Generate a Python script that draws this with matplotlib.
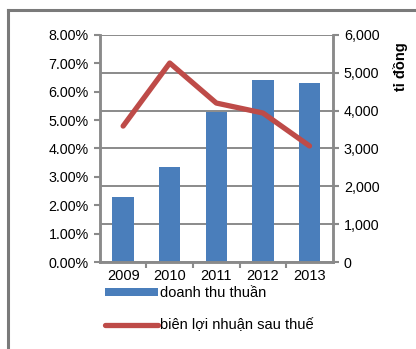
import matplotlib.pyplot as plt
from matplotlib.lines import Line2D
from matplotlib.patches import Patch

plt.rcParams['font.family'] = ['Liberation Sans', 'DejaVu Sans']

years = ['2009', '2010', '2011', '2012', '2013']
revenue = [1720, 2510, 3960, 4800, 4720]          # doanh thu thuần (tỉ đồng)
margin = [4.79, 7.01, 5.60, 5.25, 4.09]           # biên lợi nhuận sau thuế (%)
left_ticks = [0, 1, 2, 3, 4, 5, 6, 7, 8]
right_ticks = [0, 1000, 2000, 3000, 4000, 5000, 6000]

blue = '#4a7ebb'
red = '#be4b48'
grey = '#8a8a8a'

fig = plt.figure(figsize=(4.16, 3.49), dpi=100)
ax = fig.add_axes([0.240, 0.249, 0.560, 0.651])
ax2 = ax.twinx()

x = list(range(len(years)))

# bars on right axis, line on left axis
ax2.bar(x, revenue, width=0.46, color=blue, zorder=2)
ax.set_zorder(ax2.get_zorder() + 1)
ax.patch.set_visible(False)
ax.plot(x, margin, color=red, linewidth=3.8, solid_capstyle='round', zorder=3)

ax.set_ylim(0, 8)
ax.set_yticks(left_ticks)
ax.set_yticklabels([f'{v:.2f}%' for v in left_ticks], fontsize=10.3)
ax2.set_ylim(0, 6000)
ax2.set_yticks(right_ticks)
ax2.set_yticklabels([f'{v:,}' for v in right_ticks], fontsize=10.3)
ax2.yaxis.grid(True, color=grey, linewidth=1.4, zorder=0)
ax2.set_axisbelow(True)

ax.set_xlim(-0.5, len(years) - 0.5)
ax.set_xticks(x)
ax.set_xticklabels(years, fontsize=10.5)
ax.tick_params(axis='x', length=0, pad=5)
ax.set_xticks([i + 0.5 for i in x[:-1]], minor=True)
ax.tick_params(axis='x', which='minor', length=4, width=1.5, color=grey, direction='out')
ax.tick_params(axis='y', length=4, width=1.5, color=grey, pad=4)
ax2.tick_params(axis='y', length=4, width=1.5, color=grey, pad=4)

for a in (ax, ax2):
    a.spines['top'].set_visible(False)
    for side in ('left', 'right', 'bottom'):
        a.spines[side].set_color(grey)
        a.spines[side].set_linewidth(1.8)

fig.text(401 / 416, 1 - 67 / 349, 'tỉ đồng', rotation=90, ha='center', va='center',
         fontsize=10.5, fontweight='bold')

handles = [Patch(facecolor=blue, edgecolor='none'),
           Line2D([0], [0], color=red, linewidth=3.8, solid_capstyle='round')]
fig.legend(handles, ['doanh thu thuần', 'biên lợi nhuận sau thuế'],
           loc='upper left', bbox_to_anchor=(105 / 416, 1 - 286 / 349),
           frameon=False, fontsize=10.5, handlelength=3.6, handleheight=0.45,
           handletextpad=0.15, labelspacing=1.25, borderpad=0, borderaxespad=0)

# outer frame (left and top edges)
fig.add_artist(Line2D([8 / 416, 8 / 416], [0, 1 - 10 / 349], color='#7a7a7a',
                      linewidth=2.2, transform=fig.transFigure))
fig.add_artist(Line2D([8 / 416, 1], [1 - 10 / 349, 1 - 10 / 349], color='#7a7a7a',
                      linewidth=2.2, transform=fig.transFigure))

fig.savefig('out.png', dpi=100)
